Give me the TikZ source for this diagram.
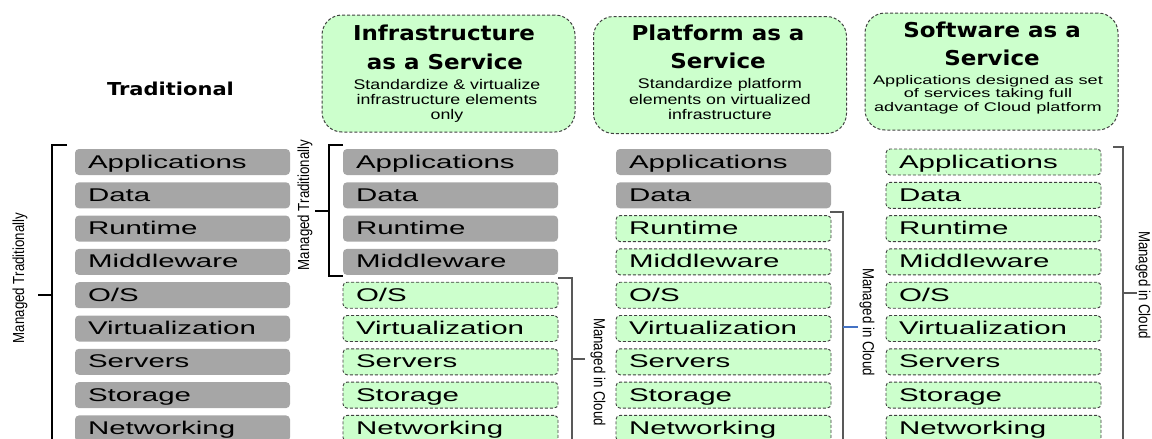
\documentclass[tikz,border=0pt]{standalone}
\usepackage{fontspec}
\setmainfont{Liberation Sans}
\newfontfamily\boxfont{Liberation Sans}[FakeStretch=1.6]
\newfontfamily\subfont{Liberation Sans}[FakeStretch=1.27]
\newfontfamily\subfontS{Liberation Sans}[FakeStretch=1.45]
\newfontfamily\headfont{DejaVu Sans}[FakeStretch=1.12]
\newfontfamily\tradfont{DejaVu Sans}[FakeStretch=1.18]
\newfontfamily\labfont{Liberation Sans}[FakeStretch=0.83]

\definecolor{boxgray}{HTML}{A6A6A6}
\definecolor{cloudgreen}{HTML}{CCFFCC}
\definecolor{dashgray}{HTML}{404040}
\definecolor{bracketgray}{HTML}{595959}
\definecolor{tickblue}{HTML}{4472C4}

\tikzset{
  layer/.style={rounded corners=4pt, minimum width=215pt, minimum height=26pt,
    text width=189pt, inner xsep=13pt, inner ysep=0pt,
    text height=16pt, text depth=4pt, align=left,
    font=\boxfont\fontsize{18.4}{20}\selectfont},
  onprem/.style={layer, fill=boxgray},
  incloud/.style={layer, fill=cloudgreen, draw=dashgray, line width=0.9pt,
    dash pattern=on 3pt off 2pt},
  header/.style={rounded corners=20pt, fill=cloudgreen, draw=dashgray,
    line width=1pt, dash pattern=on 3pt off 2pt,
    minimum width=253pt, minimum height=117pt},
  titleline/.style={anchor=base, inner sep=0pt,
    font=\headfont\bfseries\fontsize{20.5}{22}\selectfont},
  subline/.style={anchor=base, inner sep=0pt,
    font=\subfont\fontsize{14}{15}\selectfont},
  sublineS/.style={anchor=base, inner sep=0pt,
    font=\subfontS\fontsize{12.5}{13.5}\selectfont},
  tradline/.style={draw=black, line width=1.8pt},
  cloudline/.style={draw=bracketgray, line width=1.8pt},
  sidelabel/.style={inner sep=0pt, font=\labfont\fontsize{16}{18}\selectfont},
}

\begin{document}
\begin{tikzpicture}[x=1pt, y=-1pt]
\useasboundingbox (0,0) rectangle (1152,439);
\clip (0,0) rectangle (1152,439);

% column headings
\node[anchor=base, inner sep=0pt, font=\tradfont\bfseries\fontsize{17.8}{20}\selectfont]
  (trad) at (170.5,95) {Traditional};

\node[header] (IH) at (448.5,73.5) {};
\node[header] (PH) at (720,75) {};
\node[header] (SH) at (991.5,71.5) {};

\node[titleline] (IH1) at (444,40) {Infrastructure};
\node[titleline] (IH2) at (445,69) {as a Service};
\node[subline] (IS1) at (447,89) {Standardize \& virtualize};
\node[subline] (IS2) at (447,104) {infrastructure elements};
\node[subline] (IS3) at (447,119) {only};

\node[titleline] (PH1) at (718,40) {Platform as a};
\node[titleline] (PH2) at (718,68) {Service};
\node[subline] (PS1) at (720,88) {Standardize platform};
\node[subline] (PS2) at (720,104) {elements on virtualized};
\node[subline] (PS3) at (720,119) {infrastructure};

\node[titleline] (SH1) at (992,37) {Software as a};
\node[titleline] (SH2) at (992,65) {Service};
\node[sublineS] (SS1) at (988,84) {Applications designed as set};
\node[sublineS] (SS2) at (988,97.5) {of services taking full};
\node[sublineS] (SS3) at (988,111) {advantage of Cloud platform};

% the layer stacks
\foreach \lab [count=\i] in {Applications,Data,Runtime,Middleware,O/S,Virtualization,Servers,Storage,Networking}{
  \pgfmathsetmacro\yy{162+33.3*(\i-1)}
  \node[onprem] (T\i) at (182.5,\yy) {\lab};
  \ifnum\i<5
    \node[onprem] (I\i) at (450.5,\yy) {\lab};
  \else
    \node[incloud] (I\i) at (450.5,\yy) {\lab};
  \fi
  \ifnum\i<3
    \node[onprem] (P\i) at (723.5,\yy) {\lab};
  \else
    \node[incloud] (P\i) at (723.5,\yy) {\lab};
  \fi
  \node[incloud] (S\i) at (993.5,\yy) {\lab};
}

% brackets: traditional stack
\coordinate (tA) at (67,145);
\coordinate (tB) at (52,145);
\coordinate (tC) at (52,445);
\coordinate (tM) at (52,295);
\coordinate (tL) at (38,295);
\draw[tradline] (tA) -- (tB) -- (tC);
\draw[tradline] (tM) -- (tL);
\node[sidelabel, rotate=90] (tlab) at (20,278) {Managed Traditionally};

% brackets: IaaS, managed traditionally
\coordinate (iA) at (343,145);
\coordinate (iB) at (329,145);
\coordinate (iC) at (329,276);
\coordinate (iD) at (343,276);
\coordinate (iM) at (329,211);
\coordinate (iL) at (315,211);
\draw[tradline] (iA) -- (iB) -- (iC) -- (iD);
\draw[tradline] (iM) -- (iL);
\node[sidelabel, rotate=90] (ilab) at (305,205) {Managed Traditionally};

% brackets: IaaS, managed in cloud
\coordinate (icA) at (558,278);
\coordinate (icB) at (572,278);
\coordinate (icC) at (572,445);
\coordinate (icM) at (572,359);
\coordinate (icL) at (585,359);
\draw[cloudline] (icA) -- (icB) -- (icC);
\draw[cloudline] (icM) -- (icL);
\node[sidelabel, rotate=-90] (iclab) at (598,372) {Managed in Cloud};

% brackets: PaaS, managed in cloud
\coordinate (pcA) at (830,212);
\coordinate (pcB) at (843,212);
\coordinate (pcC) at (843,445);
\coordinate (pcM) at (843,327);
\coordinate (pcL) at (858,327);
\draw[cloudline] (pcA) -- (pcB) -- (pcC);
\draw[draw=tickblue, line width=1.5pt] (pcM) -- (pcL);
\node[sidelabel, rotate=-90] (pclab) at (867,322) {Managed in Cloud};

% brackets: SaaS, managed in cloud
\coordinate (scA) at (1113,147);
\coordinate (scB) at (1123,147);
\coordinate (scC) at (1123,445);
\coordinate (scM) at (1123,293);
\coordinate (scL) at (1137,293);
\draw[cloudline] (scA) -- (scB) -- (scC);
\draw[cloudline] (scM) -- (scL);
\node[sidelabel, rotate=-90] (sclab) at (1143,285) {Managed in Cloud};
\end{tikzpicture}
\end{document}
